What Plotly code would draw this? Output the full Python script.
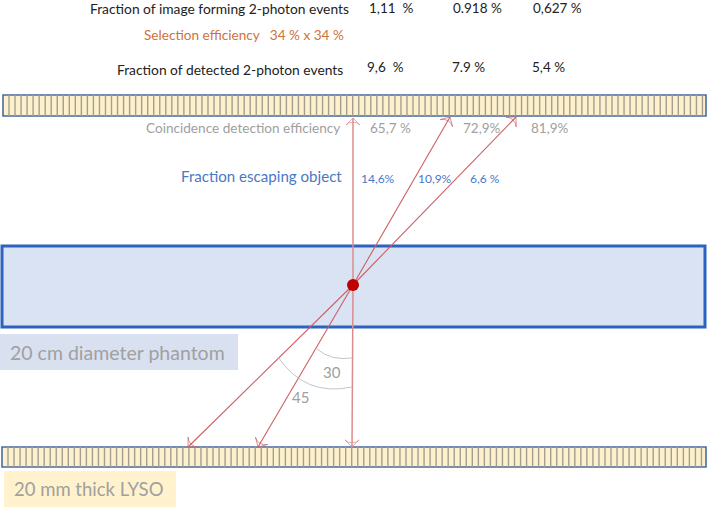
import plotly.graph_objects as go
import numpy as np

FONT = "Lato"

# text rows: (label, x, y)
image_label = "Fraction of image forming 2-photon events"
image_values = ["1,11  %", "0.918 %", "0,627 %"]
image_x = [367, 451, 531]
selection_label = "Selection efficiency   34 % x 34 %"
detected_label = "Fraction of detected 2-photon events"
detected_values = ["9,6  %", "7.9 %", "5,4 %"]
detected_x = [365, 450, 530]
coincidence_label = "Coincidence detection efficiency"
coincidence_values = ["65,7 %", "72,9%", "81,9%"]
coincidence_x = [368, 461, 529]
escaping_label = "Fraction escaping object"
escaping_values = ["14,6%", "10,9%", "6,6 %"]
escaping_x = [359, 416, 468]

# ray ends, source point in the phantom
source = (353, 285)
top_ends_x = [353, 450, 516]
top_ends_y = [118, 117, 117]
bottom_ends_x = [188, 258, 352]
bottom_ends_y = [447, 447, 447]
ray_colors = ["#dc8c8c", "#cc5f62", "#cc5f62", "#cc5f62", "#cc5f62", "#dc8c8c"]
ray_widths = [1.5, 1.1, 1.1, 1.1, 1.1, 1.5]

BLACK = "#222222"
ORANGE = "#d2703a"
GRAY = "#a0a0a0"
BLUE = "#4a78c4"
YELLOW = "#fdf0cc"
BAR_LINE = "#4a6aa0"

fig = go.Figure()
shapes = []
annots = []


def add_text(s, x, y, color, size, anchor="left"):
    annots.append(dict(x=x, y=y, text=s, showarrow=False, xanchor=anchor, yanchor="middle",
                       font=dict(family=FONT, size=size, color=color)))


def add_detector(x0, x1, y0, y1):
    shapes.append(dict(type="rect", x0=x0, x1=x1, y0=y0, y1=y1, fillcolor=YELLOW, line=dict(color=BAR_LINE, width=1.6), layer="below"))
    xs = []
    ys = []
    for x in np.arange(x0 + 6, x1, 6.03):
        xs += [x, x, None]
        ys += [y0, y1, None]
    fig.add_trace(go.Scatter(x=xs, y=ys, mode="lines", line=dict(color="#a39f90", width=1.4), hoverinfo="skip"))


# phantom and label boxes
shapes.append(dict(type="rect", x0=2, x1=705, y0=246, y1=327, fillcolor="#dae3f3", line=dict(color="#2c62c0", width=3), layer="below"))
shapes.append(dict(type="rect", x0=0, x1=238, y0=334, y1=370, fillcolor="#d9e0f0", line=dict(width=0), layer="below"))
shapes.append(dict(type="rect", x0=4, x1=176, y0=471, y1=507, fillcolor="#fff2cc", line=dict(width=0), layer="below"))

add_detector(3, 706, 95, 116)
add_detector(2, 706, 447, 467)

# angle arcs
shapes.append(dict(type="path", path="M 317 349 Q 331 361 352 358", line=dict(color="#c4c4c8", width=1)))
shapes.append(dict(type="path", path="M 278 357 Q 305 397 352 387", line=dict(color="#c4c4c8", width=1)))

# rays
for x, y, c, w in zip(top_ends_x + bottom_ends_x, top_ends_y + bottom_ends_y, ray_colors, ray_widths):
    fig.add_trace(go.Scatter(
        x=[source[0], x], y=[source[1], y], mode="lines+markers",
        line=dict(color=c, width=w),
        marker=dict(symbol="arrow-wide-open", size=[0, 10], angleref="previous", color=c,
                    line=dict(color=c, width=1)),
        hoverinfo="skip"))
fig.add_trace(go.Scatter(x=[source[0]], y=[source[1]], mode="markers",
                         marker=dict(color="#c00000", size=12), hoverinfo="skip"))

# text
add_text(image_label, 351, 8, BLACK, 13.8, "right")
add_text(selection_label, 346, 35, ORANGE, 13.6, "right")
add_text(detected_label, 345, 69, BLACK, 13.8, "right")
for s, x in zip(image_values, image_x):
    add_text(s, x, 8, BLACK, 13.5)
for s, x in zip(detected_values, detected_x):
    add_text(s, x, 67, BLACK, 13.5)
add_text(coincidence_label, 342, 128, GRAY, 13.6, "right")
for s, x in zip(coincidence_values, coincidence_x):
    add_text(s, x, 128, GRAY, 13.5)
add_text(escaping_label, 344, 176, BLUE, 15.1, "right")
for s, x in zip(escaping_values, escaping_x):
    add_text(s, x, 178, BLUE, 12)
add_text("20 cm diameter phantom", 8, 352, GRAY, 19.5)
add_text("20 mm thick LYSO", 12, 489, GRAY, 18.5)
add_text("30", 321, 372, GRAY, 15)
add_text("45", 290, 397, GRAY, 15)

fig.update_layout(
    width=707, height=507,
    margin=dict(l=0, r=0, t=0, b=0),
    paper_bgcolor="white", plot_bgcolor="white",
    showlegend=False,
    shapes=shapes, annotations=annots,
    xaxis=dict(range=[0, 707], visible=False, fixedrange=True),
    yaxis=dict(range=[507, 0], visible=False, fixedrange=True),
)
fig.write_html("out.html", config=dict(displayModeBar=False), post_script="document.body.style.margin='0';")
